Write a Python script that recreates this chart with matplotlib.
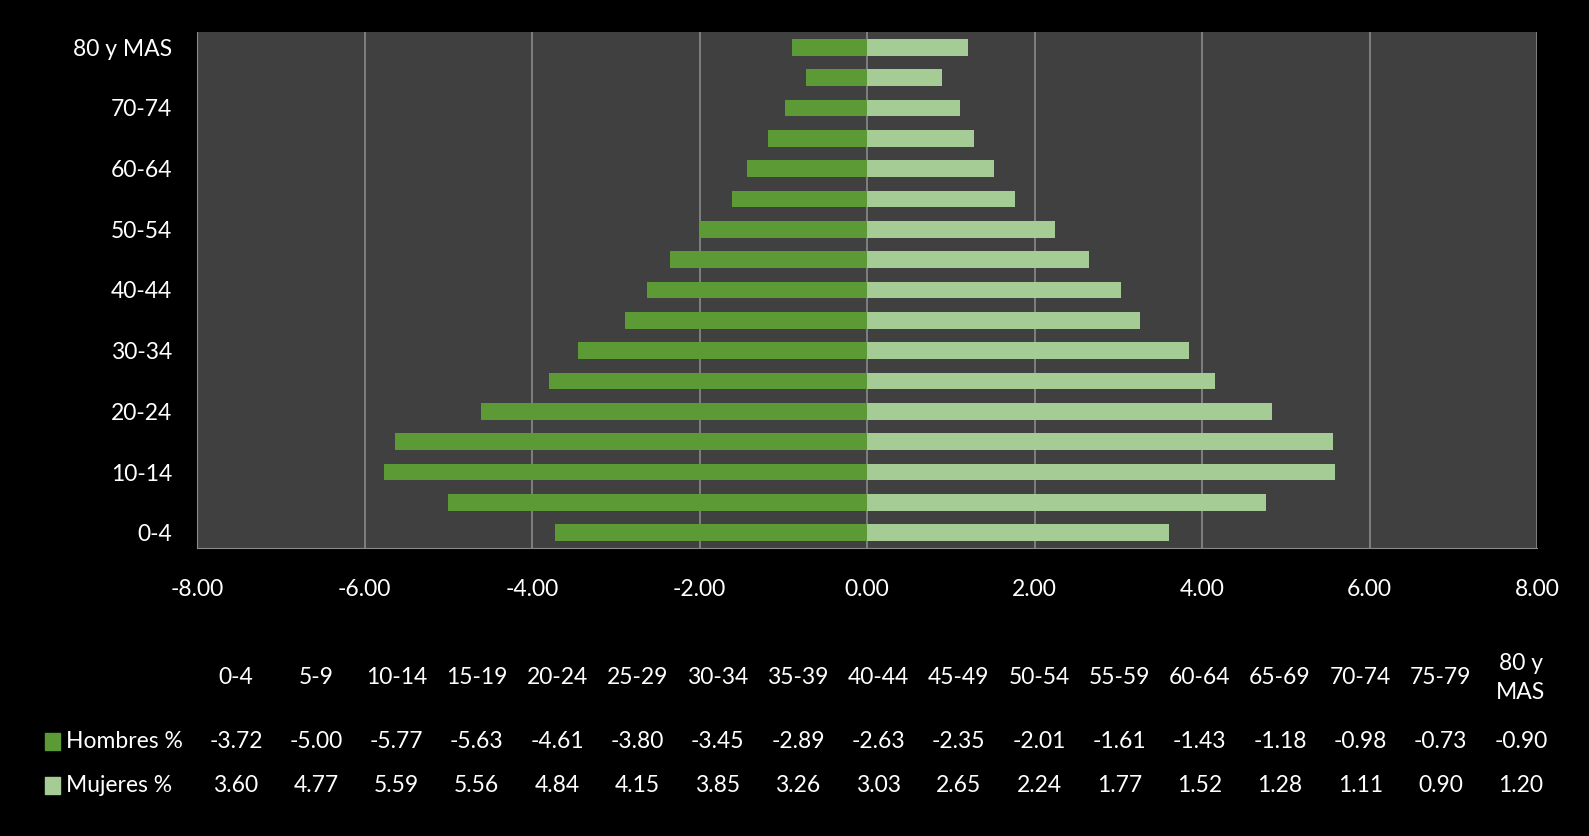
import numpy as np
import matplotlib.pyplot as plt
from matplotlib.patches import Rectangle

plt.rcParams['font.family'] = ['Lato', 'DejaVu Sans']

grupos = ['0-4', '5-9', '10-14', '15-19', '20-24', '25-29', '30-34', '35-39',
          '40-44', '45-49', '50-54', '55-59', '60-64', '65-69', '70-74',
          '75-79', '80 y MAS']
hombres = [-3.72, -5.00, -5.77, -5.63, -4.61, -3.80, -3.45, -2.89, -2.63,
           -2.35, -2.01, -1.61, -1.43, -1.18, -0.98, -0.73, -0.90]
mujeres = [3.60, 4.77, 5.59, 5.56, 4.84, 4.15, 3.85, 3.26, 3.03, 2.65,
           2.24, 1.77, 1.52, 1.28, 1.11, 0.90, 1.20]
series = ['Hombres %', 'Mujeres %']
xticks = np.arange(-8, 9, 2)

c_h = '#5b9a35'
c_m = '#a5cc94'
fs = 16.5

W, H = 1589, 836
fig = plt.figure(figsize=(W / 100, H / 100), dpi=100, facecolor='black')
ax = fig.add_axes([197 / W, 1 - 548 / H, (1537 - 197) / W, (548 - 32) / H])
ax.set_facecolor('#404040')

y = np.arange(len(grupos))
ax.barh(y, hombres, height=0.55, color=c_h, zorder=3)
ax.barh(y, mujeres, height=0.55, color=c_m, zorder=3)

ax.set_xlim(-8, 8)
ax.set_ylim(-0.5, len(grupos) - 0.5)
ax.set_xticks(xticks)
ax.set_xticklabels(['%.2f' % v for v in xticks])
ax.set_yticks(y[::2])
ax.set_yticklabels(grupos[::2])
ax.tick_params(colors='white', labelsize=fs, length=0)
ax.tick_params(axis='x', pad=22)
ax.tick_params(axis='y', pad=18)
ax.grid(axis='x', color='#8a8a8a', lw=1.2, zorder=1)
for s in ax.spines.values():
    s.set_visible(False)
ax.spines['bottom'].set_visible(True)
ax.spines['bottom'].set_color('#8a8a8a')
ax.spines['left'].set_visible(True)
ax.spines['left'].set_color('#8a8a8a')

# tabla de datos
x0, dx = 236, 80.3
for i, g in enumerate(grupos):
    xc = (x0 + i * dx) / W
    fig.text(xc, 1 - 678 / H, g.replace('80 y ', '80 y\n'), color='white',
             fontsize=fs, ha='center', va='center', linespacing=1.45)
    fig.text(xc, 1 - 742 / H, '%.2f' % hombres[i], color='white',
             fontsize=fs, ha='center', va='center')
    fig.text(xc, 1 - 786 / H, '%.2f' % mujeres[i], color='white',
             fontsize=fs, ha='center', va='center')

for name, col, yy in zip(series, [c_h, c_m], [742, 786]):
    fig.patches.append(Rectangle((45 / W, 1 - (yy + 8) / H), 15 / W, 17 / H,
                                 transform=fig.transFigure, color=col))
    fig.text(66 / W, 1 - yy / H, name, color='white', fontsize=fs,
             ha='left', va='center')

fig.savefig('out.png', dpi=100, facecolor='black')
